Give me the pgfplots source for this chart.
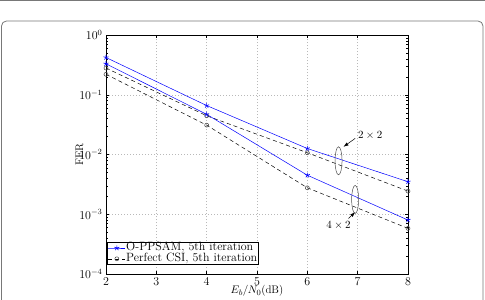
\documentclass[border=0pt]{standalone}
\usepackage{pgfplots}
\pgfplotsset{compat=1.18}
\usetikzlibrary{arrows.meta}

\definecolor{framegray}{RGB}{120,120,120}
\definecolor{gridgray}{RGB}{185,185,185}

\begin{document}
\begin{tikzpicture}[x=1pt,y=1pt]
\useasboundingbox (0,0) rectangle (485,300);
\clip (0,0) rectangle (485,300);
% page rule and figure frame
\draw[framegray, line width=1.6pt] (0,299.4) -- (485,299.4);
\draw[framegray, line width=0.8pt, rounded corners=5pt] (1.5,-20) rectangle (483,279);

\begin{axis}[
  at={(106pt,26pt)}, anchor=south west,
  width=302pt, height=239pt, scale only axis,
  ymode=log,
  xmin=2, xmax=8, ymin=1e-4, ymax=1,
  xtick={2,3,4,5,6,7,8},
  ytick={1e-4,1e-3,1e-2,1e-1,1},
  tick align=inside,
  major tick length=3pt, minor tick length=1.6pt,
  xmajorgrids, ymajorgrids,
  grid style={gridgray, line width=0.5pt, dash pattern=on 0.6pt off 2.4pt},
  axis line style={line width=0.6pt},
  tick style={line width=0.4pt, black},
  tick label style={font=\fontsize{11.5}{12}\selectfont},
  label style={font=\fontsize{11}{12}\selectfont},
  xlabel={$E_b/N_0$(dB)},
  ylabel={FER},
  xlabel style={at={(axis description cs:0.5,-0.072)}, anchor=center},
  ylabel style={at={(axis description cs:-0.088,0.5)}, anchor=center},
  legend style={at={(axis description cs:0.004,0.04)}, anchor=south west,
    font=\fontsize{12}{12}\selectfont, inner sep=0.6pt, row sep=1.2pt,
    draw=black, line width=0.5pt,
    nodes={inner sep=0.6pt, text height=7.2pt, text depth=1.2pt}},
  legend cell align=left,
]
% O-PPSAM, 2x2
\addplot[blue, line width=0.5pt, mark=star, mark size=2.6pt, mark options={solid, line width=0.6pt}]
  coordinates {(2,0.42) (4,0.066) (6,0.0126) (8,0.0035)};
\addlegendentry{O-PPSAM, 5th iteration}
% Perfect CSI, 2x2
\addplot[black, line width=0.5pt, dash pattern=on 4pt off 3pt, mark=o, mark size=2pt, mark options={solid, draw=black!75, line width=0.5pt}]
  coordinates {(2,0.28) (4,0.0445) (6,0.0107) (8,0.00244)};
\addlegendentry{Perfect CSI, 5th iteration}
% O-PPSAM, 4x2
\addplot[blue, line width=0.5pt, mark=star, mark size=2.6pt, mark options={solid, line width=0.6pt}, forget plot]
  coordinates {(2,0.33) (4,0.047) (6,0.0045) (8,0.0008)};
% Perfect CSI, 4x2
\addplot[black, line width=0.5pt, dash pattern=on 4pt off 3pt, mark=o, mark size=2pt, mark options={solid, draw=black!75, line width=0.5pt}, forget plot]
  coordinates {(2,0.22) (4,0.031) (6,0.00277) (8,0.00058)};

% antenna-configuration annotations
\draw[black!70, line width=0.5pt] (axis cs:6.62,0.00785) ellipse [x radius=3.5pt, y radius=14pt];
\draw[black!70, line width=0.5pt] (axis cs:6.95,0.00177) ellipse [x radius=3.5pt, y radius=14pt];
\draw[-{Latex[length=5pt,width=3.5pt]}, line width=0.5pt] (axis cs:6.95,0.0186) -- (axis cs:6.718,0.01345);
\draw[-{Latex[length=5pt,width=3.5pt]}, line width=0.5pt] (axis cs:6.817,0.00085) -- (axis cs:6.95,0.00108);
\node[font=\fontsize{11}{12}\selectfont] at (axis cs:7.25,0.0211) {$2\times2$};
\node[font=\fontsize{11}{12}\selectfont] at (axis cs:6.62,0.00066) {$4\times2$};
\end{axis}
\end{tikzpicture}
\end{document}
